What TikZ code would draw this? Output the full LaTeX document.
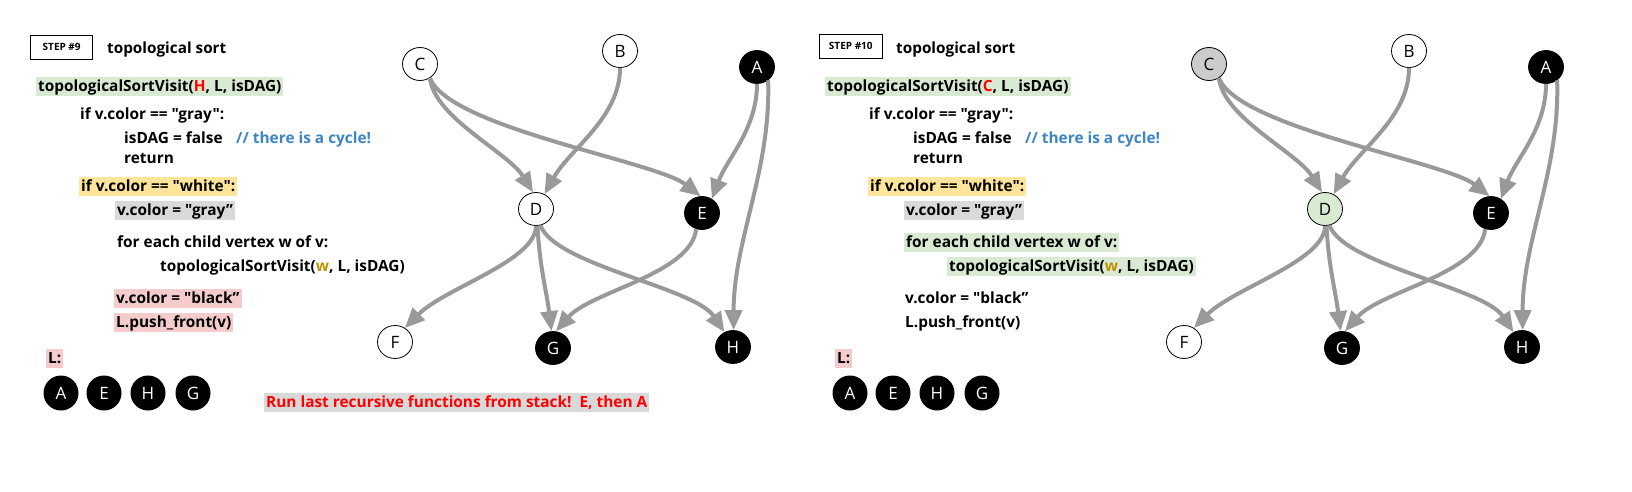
\documentclass[tikz,border=0pt]{standalone}
\usepackage{fontspec}
\setmainfont{Open Sans}[Ligatures=TeXOff]
\usetikzlibrary{arrows.meta,shapes.geometric}
\definecolor{hlgreen}{HTML}{D9EAD3}
\definecolor{hlorange}{HTML}{FFE599}
\definecolor{hlgray}{HTML}{D9D9D9}
\definecolor{hlpink}{HTML}{F4CCCC}
\definecolor{cmtblue}{HTML}{3D85C6}
\definecolor{wgold}{HTML}{BF9000}
\definecolor{edgegray}{HTML}{999999}
\definecolor{vgray}{HTML}{CCCCCC}
\tikzset{
  vtx/.style={ellipse, draw, line width=0.8pt, minimum width=35pt, minimum height=33pt, inner sep=0pt, font=\fontsize{17}{17}\selectfont},
  wv/.style={vtx, fill=white},
  bv/.style={vtx, fill=black, text=white},
  gv/.style={vtx, fill=vgray},
  dv/.style={vtx, fill=hlgreen},
  edge/.style={draw=edgegray, line width=4pt, -{Triangle[length=20pt,width=17pt]}},
  code/.style={anchor=base west, inner xsep=2pt, inner ysep=2pt, text height=12.5pt, text depth=2.5pt, font=\fontsize{15.4}{15.4}\selectfont\bfseries},
  stepbox/.style={draw, line width=0.8pt, minimum width=62pt, minimum height=24pt, inner sep=0pt, font=\fontsize{10}{10}\selectfont\bfseries},
  heading/.style={anchor=base west, inner sep=0pt, font=\fontsize{15.3}{15.3}\selectfont\bfseries},
  lv/.style={circle, fill=black, text=white, minimum size=35pt, inner sep=0pt, font=\fontsize{17}{17}\selectfont},
}
\begin{document}
\begin{tikzpicture}[x=1pt, y=-1pt]
\useasboundingbox (0,0) rectangle (1632,491);
% ---------------- STEP 9 ----------------
\begin{scope}[name prefix=p9-]
\node[stepbox] (step) at (61.7,47.2) {STEP \#9};
\node[heading] (head) at (107,53) {topological sort};
\node[code, fill=hlgreen] (l1) at (36,91) {topologicalSortVisit(\textcolor{red}{H}, L, isDAG)};
\node[code] (l2) at (78,119) {if v.color == "gray":};
\node[code] (l3) at (122,143) {isDAG = false};
\node[code, text=cmtblue] (l3c) at (234,143) {// there is a cycle!};
\node[code] (l4) at (122,163) {return};
\node[code, fill=hlorange] (l5) at (79,191) {if v.color == "white":};
\node[code, fill=hlgray] (l6) at (115,215) {v.color = "gray”};
\node[code] (l7) at (115,247) {for each child vertex w of v:};
\node[code] (l8) at (158,271) {topologicalSortVisit(\textcolor{wgold}{w}, L, isDAG)};
\node[code, fill=hlpink] (l9) at (114,303) {v.color = "black”};
\node[code, fill=hlpink] (l10) at (114,327) {L.push\_front(v)};
\node[code, fill=hlpink] (lL) at (46,363) {L:};
\node[lv] (la) at (61,393) {A};
\node[lv] (le) at (104,393) {E};
\node[lv] (lh) at (148,393) {H};
\node[lv] (lg) at (193,393) {G};
\node[code, fill=hlgray, text=red] (note) at (264,407) {Run last recursive functions from stack!\ \ E, then A};
% graph
\node[wv] (C) at (420,64) {C};
\node[wv] (B) at (620,51) {B};
\node[bv] (A) at (757,67) {A};
\node[wv] (D) at (536,209) {D};
\node[bv] (E) at (702,213) {E};
\node[wv] (F) at (395,342) {F};
\node[bv] (G) at (553,348) {G};
\node[bv] (H) at (733,347) {H};
\draw[edge] (C.-55) .. controls +(5,40) and +(-25,-40) .. (D.100);
\draw[edge] (C.-55) .. controls +(20,50) and +(-45,-35) .. (E.95);
\draw[edge] (B.south) .. controls +(0,50) and +(25,-45) .. (D.60);
\draw[edge] (A.south) .. controls +(0,45) and +(15,-40) .. (E.55);
\draw[edge] (A.-50) .. controls +(3,90) and +(0,-90) .. (H.88);
\draw[edge] (D.south) .. controls +(0,35) and +(40,-40) .. (F.55);
\draw[edge] (D.-85) .. controls +(2,40) and +(-5,-40) .. (G.95);
\draw[edge] (D.-75) .. controls +(15,40) and +(-30,-45) .. (H.120);
\draw[edge] (E.-110) .. controls +(-5,45) and +(35,-40) .. (G.80);
\end{scope}
% ---------------- STEP 10 ----------------
\begin{scope}[xshift=789pt, name prefix=p10-]
\node[stepbox, minimum width=63pt] (step) at (61.8,46.2) {STEP \#10};
\node[heading] (head) at (107,53) {topological sort};
\node[code, fill=hlgreen] (l1) at (36,91) {topologicalSortVisit(\textcolor{red}{C}, L, isDAG)};
\node[code] (l2) at (78,119) {if v.color == "gray":};
\node[code] (l3) at (122,143) {isDAG = false};
\node[code, text=cmtblue] (l3c) at (234,143) {// there is a cycle!};
\node[code] (l4) at (122,163) {return};
\node[code, fill=hlorange] (l5) at (79,191) {if v.color == "white":};
\node[code, fill=hlgray] (l6) at (115,215) {v.color = "gray”};
\node[code, fill=hlgreen] (l7) at (115,247) {for each child vertex w of v:};
\node[code, fill=hlgreen] (l8) at (158,271) {topologicalSortVisit(\textcolor{wgold}{w}, L, isDAG)};
\node[code] (l9) at (114,303) {v.color = "black”};
\node[code] (l10) at (114,327) {L.push\_front(v)};
\node[code, fill=hlpink] (lL) at (46,363) {L:};
\node[lv] (la) at (61,393) {A};
\node[lv] (le) at (104,393) {E};
\node[lv] (lh) at (148,393) {H};
\node[lv] (lg) at (193,393) {G};
% graph
\node[gv] (C) at (420,64) {C};
\node[wv] (B) at (620,51) {B};
\node[bv] (A) at (757,67) {A};
\node[dv] (D) at (536,209) {D};
\node[bv] (E) at (702,213) {E};
\node[wv] (F) at (395,342) {F};
\node[bv] (G) at (553,348) {G};
\node[bv] (H) at (733,347) {H};
\draw[edge] (C.-55) .. controls +(5,40) and +(-25,-40) .. (D.100);
\draw[edge] (C.-55) .. controls +(20,50) and +(-45,-35) .. (E.95);
\draw[edge] (B.south) .. controls +(0,50) and +(25,-45) .. (D.60);
\draw[edge] (A.south) .. controls +(0,45) and +(15,-40) .. (E.55);
\draw[edge] (A.-50) .. controls +(3,90) and +(0,-90) .. (H.88);
\draw[edge] (D.south) .. controls +(0,35) and +(40,-40) .. (F.55);
\draw[edge] (D.-85) .. controls +(2,40) and +(-5,-40) .. (G.95);
\draw[edge] (D.-75) .. controls +(15,40) and +(-30,-45) .. (H.120);
\draw[edge] (E.-110) .. controls +(-5,45) and +(35,-40) .. (G.80);
\end{scope}
\end{tikzpicture}
\end{document}
